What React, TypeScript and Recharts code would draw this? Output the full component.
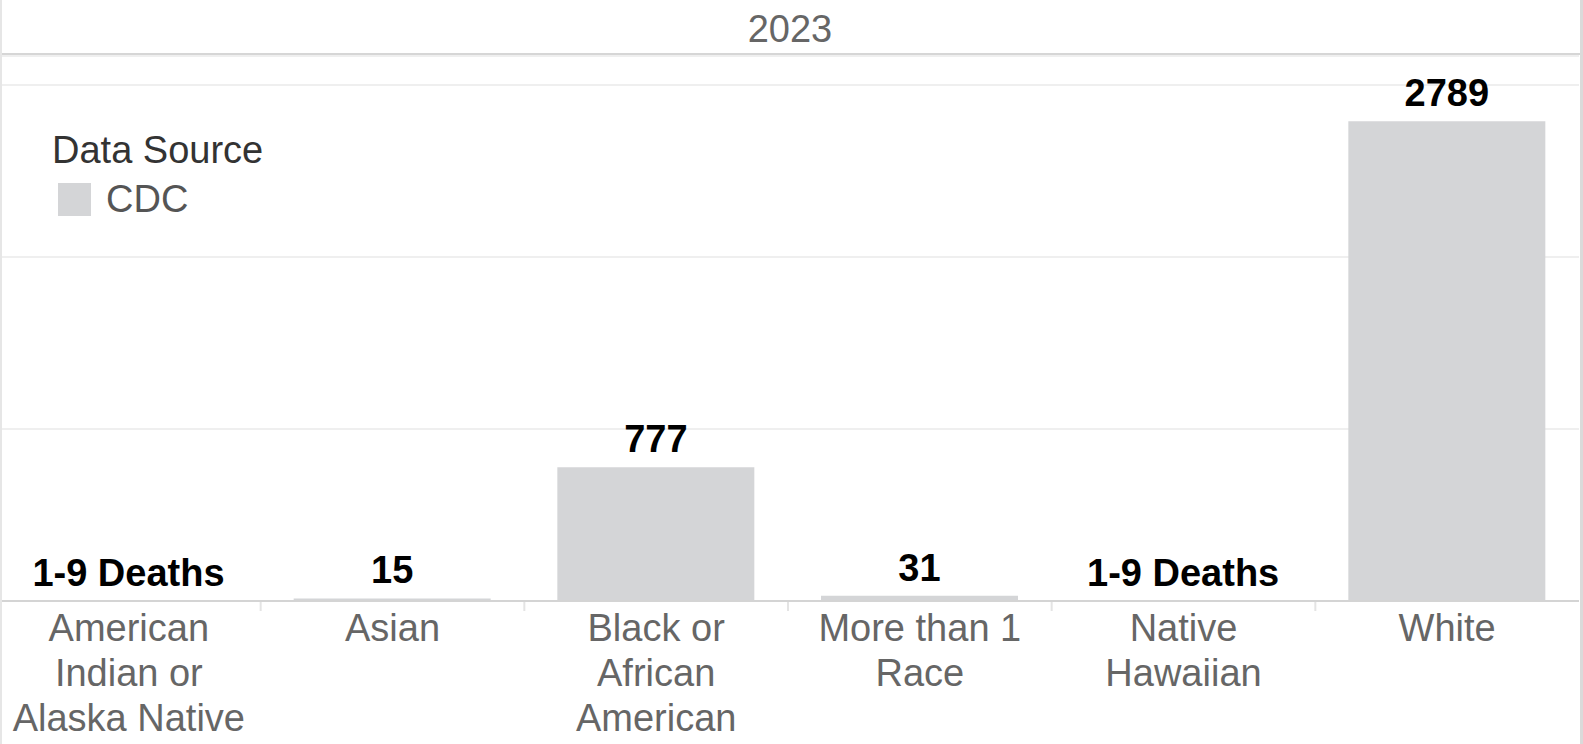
import React from 'react';
import { BarChart, Bar, XAxis, YAxis, CartesianGrid, LabelList, Cell } from 'recharts';

// ---- data ----
const categories = [
  'American Indian or Alaska Native',
  'Asian',
  'Black or African American',
  'More than 1 Race',
  'Native Hawaiian',
  'White',
];
const tickLines = [
  ['American', 'Indian or', 'Alaska Native'],
  ['Asian'],
  ['Black or', 'African', 'American'],
  ['More than 1', 'Race'],
  ['Native', 'Hawaiian'],
  ['White'],
];
// suppressed counts (1-9) drawn as 0
const deaths = [0, 15, 777, 31, 0, 2789];
const valueLabels = ['1-9 Deaths', '15', '777', '31', '1-9 Deaths', '2789'];
const gridTicks = [0, 1000, 2000, 3000];
const year = '2023';
const legendTitle = 'Data Source';
const legendItems = ['CDC'];

const data = categories.map((c, i) => ({ category: c, deaths: deaths[i], label: valueLabels[i] }));

const W = 1583;
const H = 744;
const FONT = '"Liberation Sans", Arial, sans-serif';
const BAR_FILL = '#d4d5d7';
const MARGIN = { top: 56, right: 4, bottom: 0, left: -3 };
const BAND = (W - MARGIN.left - MARGIN.right) / categories.length;

const CategoryTick = (props: any) => {
  const { x, y, index } = props;
  const lines = tickLines[index] ?? [String(props.payload?.value)];
  return (
    <g>
      {index > 0 && (
        <line x1={x - BAND / 2} x2={x - BAND / 2} y1={y + 1} y2={y + 10} stroke="#e4e4e4" strokeWidth={2} />
      )}
      <text x={x} y={y} textAnchor="middle" fill="#666" fontSize={38} fontFamily={FONT}>
        {lines.map((l, i) => (
          <tspan key={i} x={x} dy={i === 0 ? 40 : 45}>
            {l}
          </tspan>
        ))}
      </text>
    </g>
  );
};

const renderValueLabel = (props: any) => {
  const { x, y, width, height, value } = props;
  // zero-count bars get a 1px invisible stub; anchor their label at the baseline
  const top = Number(y) + (Number(height) <= 1 ? Number(height) : 0);
  return (
    <text
      x={Number(x) + Number(width) / 2}
      y={top - 15}
      textAnchor="middle"
      fill="#000"
      fontSize={38}
      fontWeight="bold"
      fontFamily={FONT}
    >
      {value}
    </text>
  );
};

const App = () => {
  return (
    <div style={{ position: 'absolute', left: 0, top: 0, width: W, height: H, background: '#fff', overflow: 'hidden', fontFamily: FONT }}>
      <BarChart width={W} height={H} data={data} margin={MARGIN}>
        <CartesianGrid horizontal vertical={false} stroke="#efefef" strokeWidth={2} />
        <YAxis hide domain={[0, 3169]} ticks={gridTicks} />
        <XAxis
          dataKey="category"
          height={143}
          interval={0}
          tickLine={false}
          tickSize={0}
          tickMargin={0}
          axisLine={{ stroke: '#d4d4d4', strokeWidth: 2 }}
          tick={<CategoryTick />}
        />
        <Bar dataKey="deaths" fill={BAR_FILL} barSize={197} minPointSize={1} isAnimationActive={false}>
          {deaths.map((d, i) => (
            <Cell key={i} fill={d === 0 ? 'transparent' : BAR_FILL} />
          ))}
          <LabelList dataKey="label" content={renderValueLabel} />
        </Bar>
      </BarChart>

      {/* header strip */}
      <div style={{ position: 'absolute', left: 0, top: 10, width: 1580, textAlign: 'center', fontSize: 38, lineHeight: '38px', color: '#666' }}>
        {year}
      </div>
      <div style={{ position: 'absolute', left: 0, top: 53, width: 1580, height: 2, background: '#d6d6d6' }} />

      {/* frame */}
      <div style={{ position: 'absolute', left: 0, top: 0, width: 2, height: H, background: '#e6e6e6' }} />
      <div style={{ position: 'absolute', left: 1580, top: 0, width: 3, height: H, background: '#dadada' }} />

      {/* legend */}
      <div style={{ position: 'absolute', left: 52, top: 131, fontSize: 38, lineHeight: '38px', color: '#333', whiteSpace: 'nowrap' }}>
        {legendTitle}
      </div>
      {legendItems.map((item, i) => (
        <React.Fragment key={item}>
          <div style={{ position: 'absolute', left: 58, top: 183 + i * 48, width: 33, height: 33, background: BAR_FILL }} />
          <div style={{ position: 'absolute', left: 106, top: 180 + i * 48, fontSize: 38, lineHeight: '38px', color: '#555', whiteSpace: 'nowrap' }}>
            {item}
          </div>
        </React.Fragment>
      ))}
    </div>
  );
};

export default App;
